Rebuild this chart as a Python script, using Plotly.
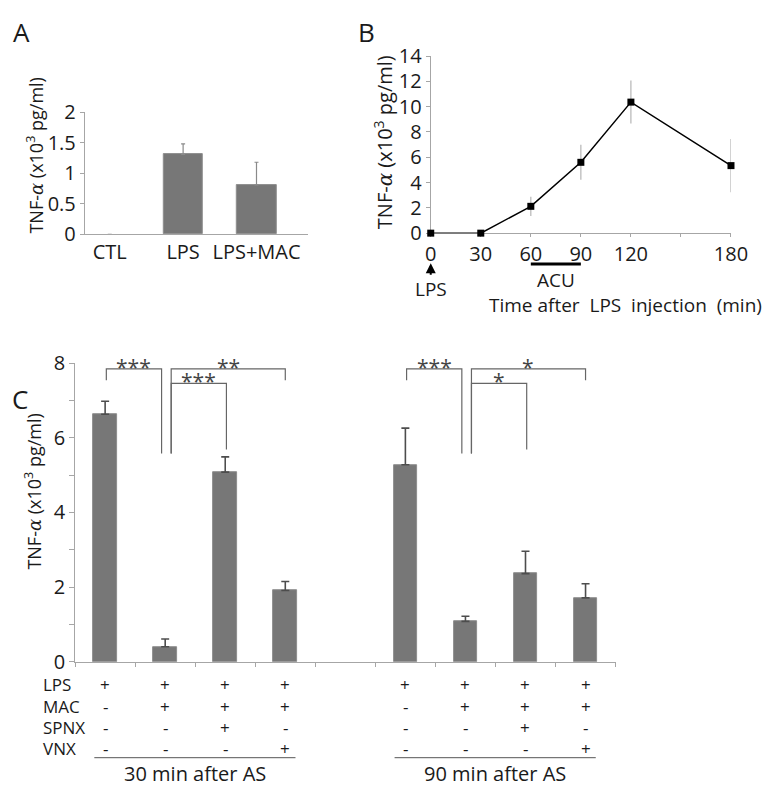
import plotly.graph_objects as go

# The page body has an 8px margin: draw a 762x782 figure so the page fills the
# 778x798 window exactly, and map reference pixel coordinates into it.
OFF = 8
W, H = 778 - 2 * OFF, 798 - 2 * OFF
def px(x):
    return (x - OFF) / W
def py(y):
    return 1 - (y - OFF) / H

FONT = "Open Sans"
TXT = "#1a1a1a"
AXC = "#a6a6a6"
BAR = "#777777"

# ---------------- data ----------------
A_CATS = ["CTL", "LPS", "LPS+MAC"]
A_MEANS = [0.0, 1.31, 0.81]
A_ERR = [0.0, 0.17, 0.37]

B_TIME = [0, 30, 60, 90, 120, 180]
B_MEANS = [0.0, 0.0, 2.12, 5.6, 10.36, 5.34]
B_ERR = [0.0, 0.0, 0.76, 1.38, 1.70, 2.10]
B_XTICKS = [0, 30, 60, 90, 120, 180]
ACU_START, ACU_END = 60, 90
LPS_TIME = 0

C_GROUPS = ["30 min after AS", "90 min after AS"]
C_MEANS_30 = [6.63, 0.40, 5.08, 1.91]
C_ERR_30 = [0.35, 0.21, 0.41, 0.24]
C_MEANS_90 = [5.28, 1.08, 2.36, 1.71]
C_ERR_90 = [0.98, 0.14, 0.60, 0.38]
C_ROWS = ["LPS", "MAC", "SPNX", "VNX"]
C_TREAT = [["+", "+", "+", "+"],
           ["-", "+", "+", "+"],
           ["-", "-", "+", "-"],
           ["-", "-", "-", "+"]]
C_PAIRS = [(0, 1), (1, 3), (1, 2)]
C_SIG_30 = ["***", "**", "***"]
C_SIG_90 = ["***", "*", "*"]
C_YTICKS = [0, 2, 4, 6, 8]

YTITLE = "TNF-<span style='font-family:DejaVu Serif'><i>α</i></span> (x10<sup>3</sup> pg/ml)"

fig = go.Figure()

# ---------------- Panel A ----------------
fig.add_trace(go.Bar(
    x=A_CATS, y=A_MEANS, xaxis="x", yaxis="y", width=0.54,
    marker=dict(color=BAR, line=dict(color="#8e8e8e", width=[0 if v == 0 else 1 for v in A_MEANS])),
    error_y=dict(type="data", array=A_ERR, arrayminus=[0] * 3, symmetric=False,
                 color="#8a8a8a", thickness=1.2, width=2),
    showlegend=False))

# ---------------- Panel B ----------------
fig.add_trace(go.Scatter(
    x=B_TIME, y=B_MEANS, xaxis="x2", yaxis="y2", mode="lines+markers",
    line=dict(color="black", width=1.5),
    marker=dict(symbol="square", size=7, color="black"),
    error_y=dict(type="data", array=B_ERR, color="#b5b5b5", thickness=1.2, width=0),
    cliponaxis=False, showlegend=False))

# ---------------- Panel C ----------------
cx, cy, ce = [], [], []
for g, (m, e) in enumerate([(C_MEANS_30, C_ERR_30), (C_MEANS_90, C_ERR_90)]):
    for k in range(len(m)):
        cx.append(g * 5 + k)
        cy.append(m[k])
        ce.append(e[k])
fig.add_trace(go.Bar(
    x=cx, y=cy, xaxis="x3", yaxis="y3", width=0.39,
    marker=dict(color=BAR, line=dict(color="#8e8e8e", width=1)),
    error_y=dict(type="data", array=ce, arrayminus=[0] * len(ce), symmetric=False,
                 color="#4d4d4d", thickness=1.6, width=4),
    showlegend=False))

shapes = []
annotations = []

def ann(**kw):
    d = dict(showarrow=False, xanchor="center", yanchor="middle")
    d.update(kw)
    annotations.append(d)

# significance brackets: (top, leg bottom a, leg bottom b, x offset a, x offset b)
geom = [
    (7.85, 7.54, 5.58, 0.02, -0.06),
    (7.85, 5.58, 7.54, 0.10, 0.0),
    (7.46, 5.58, 5.69, 0.10, 0.02),
]
for g, sigs in enumerate([C_SIG_30, C_SIG_90]):
    for (a, b), s, (top, ba, bb, da, db) in zip(C_PAIRS, sigs, geom):
        xa = g * 5 + a + da
        xb = g * 5 + b + db
        shapes.append(dict(type="path", xref="x3", yref="y3",
                           path=f"M{xa},{ba} L{xa},{top} L{xb},{top} L{xb},{bb}",
                           line=dict(color="#666666", width=1.2)))
        ann(x=(xa + xb) / 2, y=top + 0.06, xref="x3", yref="y3", text=s,
            font=dict(size=21, color="#444444", family=FONT))

# treatment table
row_y = [694.3, 716.7, 739.0, 760.7]
for r, name in enumerate(C_ROWS):
    ann(x=px(36), y=py(row_y[r]), xref="paper", yref="paper", text=name, xanchor="left",
        font=dict(size=17, color=TXT, family=FONT))
    for g in range(len(C_GROUPS)):
        for k in range(4):
            ann(x=g * 5 + k, y=py(row_y[r]), xref="x3", yref="paper", text=C_TREAT[r][k],
                font=dict(size=17, color=TXT, family=FONT))
for g, name in enumerate(C_GROUPS):
    shapes.append(dict(type="line", xref="x3", yref="paper",
                       x0=g * 5 - 0.18, x1=g * 5 + 3.17, y0=py(770), y1=py(770),
                       line=dict(color="#555555", width=1)))
    ann(x=g * 5 + 1.5, y=py(786.5), xref="x3", yref="paper", text=name,
        font=dict(size=20, color=TXT, family=FONT))

# Panel B extras
shapes.append(dict(type="line", xref="x2", yref="paper", x0=ACU_START, x1=ACU_END,
                   y0=py(258.7), y1=py(258.7), line=dict(color="black", width=3)))
ann(x=(ACU_START + ACU_END) / 2, y=py(275), xref="x2", yref="paper", text="ACU",
    font=dict(size=19, color=TXT, family=FONT))
annotations.append(dict(x=LPS_TIME, y=py(258), xref="x2", yref="paper", text="LPS",
                        showarrow=True, ax=0, ay=26, arrowhead=2, arrowsize=1,
                        arrowwidth=2, arrowcolor="black", standoff=0,
                        font=dict(size=19, color=TXT, family=FONT)))
ann(x=px(638.5), y=py(301), xref="paper", yref="paper",
    text="Time after  LPS  injection  (min)", font=dict(size=19, color=TXT, family=FONT))

# y-axis titles
for (x, y, s) in [(30, 146, 18), (389, 133, 20), (28, 494, 18)]:
    ann(x=px(x), y=py(y), xref="paper", yref="paper", text=YTITLE, textangle=-90,
        font=dict(size=s, color=TXT, family=FONT))

# panel letters
for (x, y, t) in [(16, 18, "A"), (371, 18, "B"), (14, 398, "C")]:
    ann(x=px(x), y=py(y), xref="paper", yref="paper", text=t,
        font=dict(size=26, color=TXT, family=FONT))

tickfont = dict(size=20, color=TXT, family=FONT)

fig.update_layout(
    width=W, height=H, autosize=False,
    margin=dict(l=0, r=0, t=0, b=0),
    paper_bgcolor="white", plot_bgcolor="white",
    font=dict(family=FONT, color=TXT),
    shapes=shapes, annotations=annotations,
    bargap=0,
    xaxis=dict(domain=[px(81), px(311)], anchor="y", range=[-0.34, 2.70],
               showline=True, linecolor=AXC, linewidth=1, ticks="", showgrid=False,
               tickfont=tickfont, zeroline=False),
    yaxis=dict(domain=[py(228), py(101.3)], anchor="x", range=[0, 2], dtick=0.5,
               showline=True, linecolor=AXC, linewidth=1, ticks="outside", ticklen=4,
               tickcolor=AXC, showgrid=False, zeroline=False, tickfont=tickfont),
    xaxis2=dict(domain=[px(437.7), px(747.3)], anchor="y2", range=[0, 180],
                tickvals=B_XTICKS, layer="below traces",
                showline=True, linecolor=AXC, linewidth=1, ticks="outside", ticklen=3,
                tickcolor=AXC, showgrid=False, zeroline=False,
                minor=dict(dtick=30, tick0=0, ticks="outside", ticklen=3, tickcolor=AXC),
                tickfont=dict(size=20, color=TXT, family=FONT)),
    yaxis2=dict(domain=[py(226.7), py(43.3)], anchor="x2", range=[0, 14], dtick=2,
                layer="below traces",
                showline=True, linecolor=AXC, linewidth=1, ticks="outside", ticklen=4,
                tickcolor=AXC, showgrid=False, zeroline=False,
                tickfont=dict(size=20, color=TXT, family=FONT)),
    xaxis3=dict(domain=[px(71), px(628.3)], anchor="y3", range=[-0.5, 8.5],
                tickmode="linear", tick0=-0.5, dtick=1, showticklabels=False,
                showline=True, linecolor=AXC, linewidth=1, ticks="outside", ticklen=4,
                tickcolor=AXC, showgrid=False, zeroline=False),
    yaxis3=dict(domain=[py(670.6), py(361.4)], anchor="x3", range=[0, 8],
                tickvals=C_YTICKS,
                minor=dict(dtick=1, tick0=0, ticks="outside", ticklen=5, tickcolor=AXC),
                showline=True, linecolor=AXC, linewidth=1, ticks="outside", ticklen=5,
                tickcolor=AXC, showgrid=False, zeroline=False, tickfont=tickfont),
)

fig.write_html("out.html")
